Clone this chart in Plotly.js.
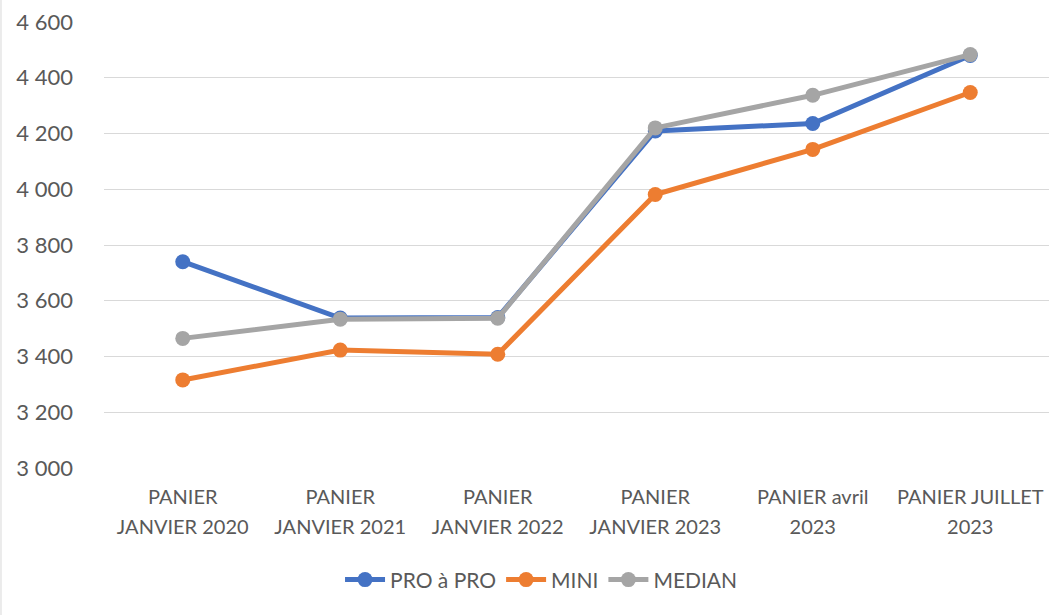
<!DOCTYPE html>
<html>
<head>
<meta charset="utf-8">
<script src="https://cdn.plot.ly/plotly-3.0.1.min.js"></script>
<style>html,body{margin:0;padding:0;background:#fff;overflow:hidden}#chart{width:1053px;height:615px}</style>
</head>
<body>
<div id="chart"></div>
<script>
var categories = ["PANIER JANVIER 2020","PANIER JANVIER 2021","PANIER JANVIER 2022","PANIER JANVIER 2023","PANIER avril 2023","PANIER JUILLET 2023"];
var tickLines = [["PANIER","JANVIER 2020"],["PANIER","JANVIER 2021"],["PANIER","JANVIER 2022"],["PANIER","JANVIER 2023"],["PANIER avril","2023"],["PANIER JUILLET","2023"]];
var proAPro = [3740, 3538, 3540, 4209, 4236, 4480];
var mini    = [3316, 3423, 3408, 3981, 4143, 4347];
var median  = [3465, 3534, 3537, 4220, 4337, 4483];
var yTicks = [3000, 3200, 3400, 3600, 3800, 4000, 4200, 4400, 4600];
var yTickText = ["3 000","3 200","3 400","3 600","3 800","4 000","4 200","4 400","4 600"];

var FONT = "Lato, 'Open Sans', sans-serif";
var TXT = "#595959";
function tr(name, y, color) {
  return {x: categories, y: y, name: name, type: "scatter", mode: "lines+markers",
    line: {color: color, width: 5}, marker: {color: color, size: 15}};
}
var data = [tr("PRO à PRO", proAPro, "#4472C4"), tr("MINI", mini, "#ED7D31"), tr("MEDIAN", median, "#A5A5A5")];
var ticktext = tickLines.map(function (l) {
  return l.map(function (s) { return '<span style="font-size:20px">' + s + '</span>'; }).join('<br>');
});
var layout = {
  width: 1053, height: 615,
  margin: {l: 104, r: 4, t: 22, b: 147},
  paper_bgcolor: "#fff", plot_bgcolor: "#fff",
  font: {family: FONT, color: TXT, size: 20},
  showlegend: true,
  xaxis: {type: "category", range: [-0.5, 5.5], tickmode: "array", tickvals: categories, ticktext: ticktext,
    showgrid: false, zeroline: false, showline: false, ticks: "",
    tickfont: {size: 23, color: TXT, family: FONT}, ticklabelstandoff: 12},
  yaxis: {range: [3000, 4600], tickmode: "array", tickvals: yTicks, ticktext: yTickText,
    showgrid: true, gridcolor: "#D9D9D9", gridwidth: 1, zeroline: false, showline: false, ticks: "",
    tickfont: {size: 22, color: TXT, family: FONT}, ticklabelstandoff: 30},
  legend: {orientation: "h", x: 0.463, xanchor: "center", y: -0.251, yanchor: "middle",
    font: {size: 21, color: TXT, family: FONT}, itemwidth: 40, traceorder: "normal"},
  shapes: [{type: "line", xref: "paper", yref: "paper", x0: -0.109, x1: -0.109, y0: -0.33, y1: 1.05,
    line: {color: "#D9D9D9", width: 1}}]
};
Plotly.newPlot("chart", data, layout, {displayModeBar: false, staticPlot: true});
</script>
</body>
</html>
